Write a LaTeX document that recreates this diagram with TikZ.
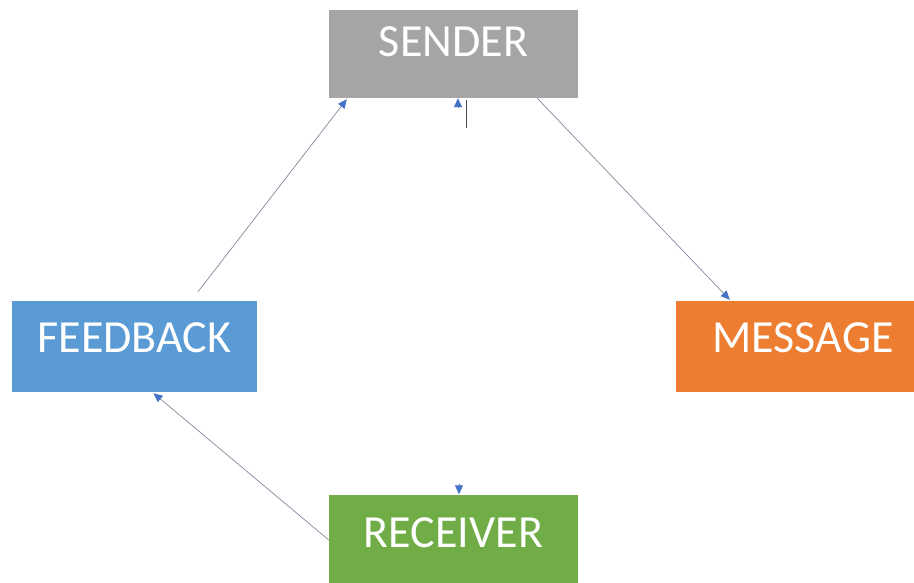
\documentclass[tikz,border=0pt]{standalone}
\usepackage{fontspec}
\setmainfont{Carlito}
\usepackage{xcolor}
\usetikzlibrary{arrows, arrows.meta}
\usetikzlibrary{positioning}
\usetikzlibrary{calc}
\definecolor{sendgray}{HTML}{A5A5A5}
\definecolor{fbblue}{HTML}{5B9BD5}
\definecolor{msgorange}{HTML}{ED7D31}
\definecolor{rcvgreen}{HTML}{70AD47}
\definecolor{tipblue}{HTML}{4472C4}
\definecolor{linegray}{HTML}{7F8A9C}
\tikzset{
	box/.style={rectangle, inner sep=0pt, text=white, font=\fontsize{46}{46}\selectfont, text height=29.5pt, text depth=17pt},
	flow/.style={draw=linegray, line width=0.7pt, tipcol},
	tipcol/.style={arrows={-{Triangle[length=9pt, width=8pt, color=tipblue]}}}
}
\begin{document}
\begin{tikzpicture}[x=1pt, y=-1pt]
	\useasboundingbox (0,0) rectangle (914,582);
	\node[box, fill=sendgray, minimum width=249pt, minimum height=88pt, text depth=24pt] (sender) at (453.5,54){SENDER};
	\node[box, fill=fbblue, minimum width=245pt, minimum height=91pt] (feedback) at (134.5,346.5){FEEDBACK};
	\node[box, fill=msgorange, minimum width=254pt, minimum height=91pt] (message) at (803,346.5){MESSAGE};
	\node[box, fill=rcvgreen, minimum width=249pt, minimum height=91pt, text depth=15pt] (receiver) at (453.5,540){RECEIVER};
	\coordinate (upstub) at (458,108);
	\coordinate (downstub) at (459,484);
	\coordinate (tickTop) at (466.5,100);
	\coordinate (tickBot) at (466.5,128);
	\draw[flow] ([xshift=63.5pt, yshift=9pt]feedback.north) -- ([xshift=18pt, yshift=-1pt]sender.south west);
	\draw[flow] ([xshift=-41pt]sender.south east) -- ([xshift=54pt, yshift=1pt]message.north west);
	\draw[flow] (receiver.west) -- ([xshift=19pt, yshift=-1pt]feedback.south);
	\draw[flow, draw=tipblue] (upstub) -- (upstub |- sender.south);
	\draw[flow, draw=tipblue] (downstub) -- (downstub |- receiver.north);
	\draw[black!70, line width=0.8pt] (tickTop) -- (tickBot);
\end{tikzpicture}
\end{document}
